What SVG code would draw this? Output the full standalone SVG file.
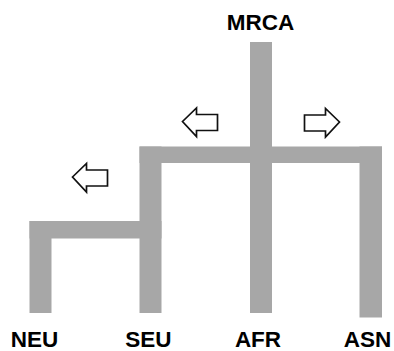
<svg xmlns="http://www.w3.org/2000/svg" width="394" height="351" viewBox="0 0 394 351">
  <style>
    .branch { fill: #a7a7a7; }
    .arrow { fill: #ffffff; stroke: #111111; stroke-width: 1.7; stroke-linejoin: miter; }
    .label { font-family: "Liberation Sans", Arial, sans-serif; font-weight: bold; font-size: 22.5px; fill: #000000; text-anchor: middle; }
  </style>
  <defs>
    <!-- left-pointing block arrow, tip at origin -->
    <path id="arrowLeft" d="M0,0 L14,-13.5 L14,-7 L35,-7 L35,9 L14,9 L14,15 Z"/>
  </defs>
  <rect width="394" height="351" fill="#ffffff"/>

  <g id="connectors">
    <!-- root stem and first split -->
    <rect class="branch" x="250" y="42" width="22" height="271"/>
    <rect class="branch" x="139.5" y="146.5" width="242.5" height="16.5"/>
    <!-- right branch -->
    <rect class="branch" x="359.5" y="146.5" width="22.5" height="171"/>
    <!-- left branch to SEU -->
    <rect class="branch" x="139.5" y="146.5" width="22" height="166.5"/>
    <!-- split to NEU -->
    <rect class="branch" x="29.5" y="221" width="132" height="17.5"/>
    <rect class="branch" x="29.5" y="221" width="22" height="92"/>
  </g>

  <g id="arrows">
    <use href="#arrowLeft" class="arrow" x="182.5" y="121.5"/>
    <use href="#arrowLeft" class="arrow" transform="translate(339.5,122) scale(-1,1)"/>
    <use href="#arrowLeft" class="arrow" x="72.5" y="177"/>
  </g>

  <g id="MRCA"><text class="label" x="260.5" y="29.5">MRCA</text></g>
  <g id="NEU"><text class="label" x="34.5" y="347">NEU</text></g>
  <g id="SEU"><text class="label" x="148.5" y="347">SEU</text></g>
  <g id="AFR"><text class="label" x="258" y="347">AFR</text></g>
  <g id="ASN"><text class="label" x="367.5" y="347">ASN</text></g>
</svg>
